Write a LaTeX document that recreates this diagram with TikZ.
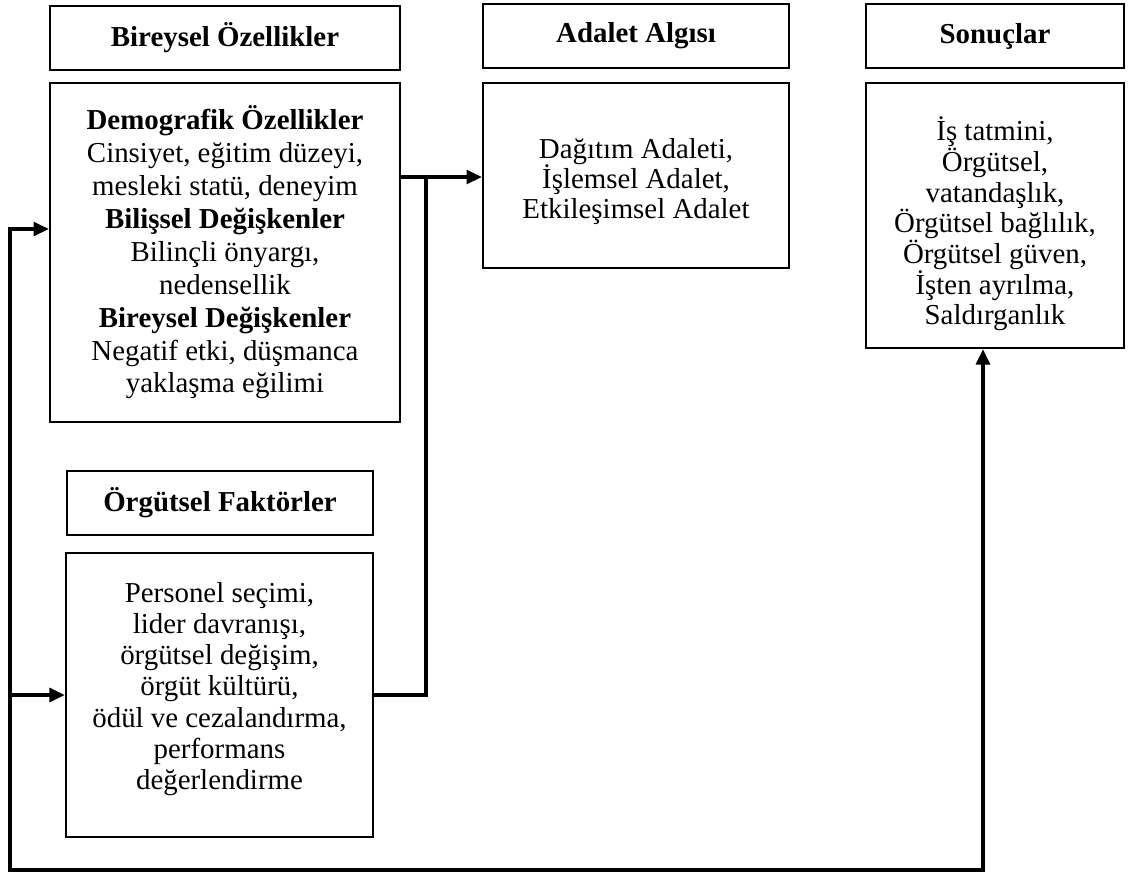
\documentclass[tikz,border=0pt]{standalone}
\usepackage{fontspec}
\setmainfont{Liberation Serif}
\usepackage{tikz}
\usetikzlibrary{positioning}
\usetikzlibrary{arrows.meta}

\begin{document}
\begin{tikzpicture}[x=0.45pt,y=-0.45pt,
		>={Triangle[length=6.9pt,width=6.2pt]},
		kutu/.style={draw,line width=1pt,align=center,inner sep=0pt,font=\fontsize{13}{14}\selectfont},
		baslik/.style={kutu,minimum height=28.8pt,font=\fontsize{13}{14}\selectfont\bfseries},
		hat/.style={line width=1.5pt},
		ok/.style={hat,->}]
				\useasboundingbox (0,0) rectangle (1129,875);

				\node[baslik,minimum width=157.5pt](bireyselbaslik) at (225,38) {Bireysel Özellikler};
				\node[kutu,minimum width=157.5pt,minimum height=152.5pt,font=\fontsize{13}{14.8}\selectfont](bireysel) at (225,252.5) {\textbf{Demografik Özellikler} \\ Cinsiyet, eğitim düzeyi, \\ mesleki statü, deneyim \\ \textbf{Bilişsel Değişkenler} \\ Bilinçli önyargı, \\ nedensellik \\ \textbf{Bireysel Değişkenler} \\ Negatif etki, düşmanca \\ yaklaşma eğilimi};
				\node[baslik,minimum width=137.7pt](orgutselbaslik) at (220,503) {Örgütsel Faktörler};
				\node[kutu,minimum width=138.2pt,minimum height=127.8pt](orgutsel) at (219.5,695) {Personel seçimi, \\ lider davranışı, \\ örgütsel değişim, \\ örgüt kültürü, \\ ödül ve cezalandırma, \\ performans \\ değerlendirme\rule[-8.2pt]{0pt}{8.2pt}};
				\node[baslik,minimum width=137.7pt](adaletbaslik) at (636,36) {Adalet Algısı};
				\node[kutu,minimum width=137.7pt,minimum height=83.3pt,font=\fontsize{13}{13.6}\selectfont](adalet) at (636,175.5) {\rule{0pt}{14.3pt}Dağıtım Adaleti, \\ İşlemsel Adalet, \\ Etkileşimsel Adalet};
				\node[baslik,minimum width=116.1pt](sonucbaslik) at (995,36) {Sonuçlar};
				\node[kutu,minimum width=116.1pt,minimum height=119.3pt,font=\fontsize{13}{13.8}\selectfont](sonuc) at (995,215.5) {\rule{0pt}{18.4pt}İş tatmini, \\ Örgütsel, \\ vatandaşlık, \\ Örgütsel bağlılık, \\ Örgütsel güven, \\ İşten ayrılma, \\ Saldırganlık};

				\coordinate (a1) at (426,177);
				\coordinate (a2) at (10,229);
				\coordinate (a3) at (10,870);
				\coordinate (a4) at (983,870);

				\draw[ok] (a1 -| bireysel.east) to (a1 -| adalet.west);
				\draw[hat] (orgutsel.east) -| (a1);
				\draw[hat,<->] (a2 -| bireysel.west) -| (a3) -| (a4 |- sonuc.south);
				\draw[ok] (a3 |- orgutsel.west) to (orgutsel.west);
			\end{tikzpicture}
\end{document}
